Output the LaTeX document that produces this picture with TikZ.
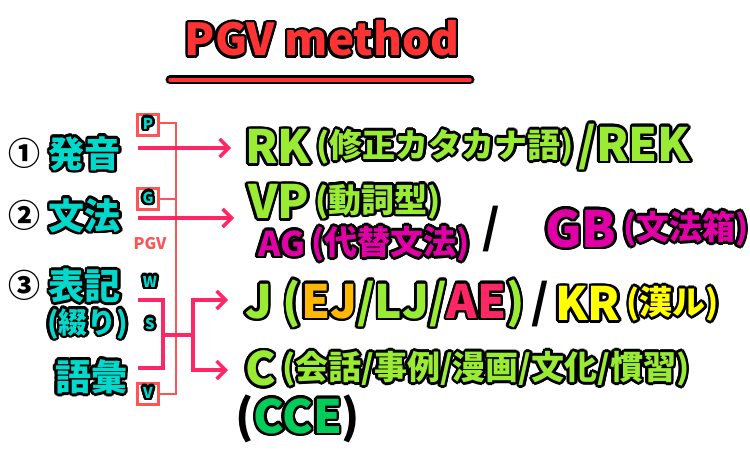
\documentclass[tikz,border=0pt]{standalone}
\usepackage{fontspec}
\setmainfont{Noto Sans CJK JP}[BoldFont={* Black}]
\usepackage{contour}
\contourlength{2.6pt}
\contournumber{16}
\usetikzlibrary{positioning,arrows.meta}
\definecolor{turq}{rgb}{0.0, 0.85, 0.8}
\definecolor{lime}{rgb}{0.6, 0.92, 0.2}
\definecolor{mag}{rgb}{0.88, 0.0, 0.65}
\definecolor{orng}{rgb}{1.0, 0.72, 0.0}
\definecolor{pinkred}{rgb}{1.0, 0.15, 0.4}
\definecolor{yell}{rgb}{1.0, 1.0, 0.0}
\definecolor{grn}{rgb}{0.0, 0.8, 0.35}
\definecolor{boxred}{rgb}{1.0, 0.33, 0.33}
\definecolor{titred}{rgb}{1.0, 0.2, 0.2}
\newcommand{\ol}[2]{\contour{black}{\color{#1}#2}}
\newcommand{\wl}[2]{\contour{white}{\color{#1}#2}}

\begin{document}
\begin{tikzpicture}[x=1pt, y=-1pt, >=Stealth]
	% ------------------------------------------------------------------
	% STYLE DEFINITIONS
	% ------------------------------------------------------------------
	\tikzset{
		txt/.style   = {inner sep=0pt, anchor=west, font=\bfseries},
		big/.style   = {txt, font=\bfseries\fontsize{46}{46}\selectfont},
		small/.style = {txt, font=\bfseries\fontsize{33}{33}\selectfont},
		lbl/.style   = {txt, font=\bfseries\fontsize{36}{36}\selectfont},
		num/.style   = {txt, font=\bfseries\fontsize{32}{32}\selectfont},
		tag/.style   = {inner sep=0pt, font=\bfseries\fontsize{15}{15}\selectfont},
		tagbox/.style= {draw=boxred, line width=2.5pt, minimum size=21pt, inner sep=0pt,
		                font=\bfseries\fontsize{15}{15}\selectfont},
		arr/.style   = {pinkred, line width=3.5pt, -{Straight Barb[length=9pt,width=18pt]}},
		brk/.style   = {pinkred, line width=3.5pt},
		thin/.style  = {boxred, line width=2pt},
	}
	\useasboundingbox (0,0) rectangle (750,460);

	% ------------------------------------------------------------------
	% TITLE
	% ------------------------------------------------------------------
	\node[inner sep=0pt, font=\bfseries\fontsize{44}{44}\selectfont] (title) at (322,40) {\ol{titred}{PGV method}};
	\draw[black, line width=9pt, line cap=round] (170,80) -- (470,80);
	\draw[titred, line width=3.5pt, line cap=round] (170,80) -- (470,80);

	% ------------------------------------------------------------------
	% LEFT COLUMN
	% ------------------------------------------------------------------
	\node[num] (n1) at (8,155) {\wl{black}{①}};
	\node[lbl, right=8pt of n1] (hatsu) {\ol{turq}{発音}};
	\node[num] (n2) at (8,217) {\wl{black}{②}};
	\node[lbl, right=8pt of n2] (bunpo) {\ol{turq}{文法}};
	\node[num] (n3) at (8,287) {\wl{black}{③}};
	\node[lbl, right=8pt of n3] (hyoki) {\ol{turq}{表記}};
	\node[txt, font=\bfseries\fontsize{29}{29}\selectfont] (tsuzuri) at (47,325) {\ol{turq}{(綴り)}};
	\node[lbl] (goi) at (55,378) {\ol{turq}{語彙}};

	% ------------------------------------------------------------------
	% P G W S V TAGS
	% ------------------------------------------------------------------
	\node[tagbox] (P) at (148,125) {\ol{turq}{P}};
	\node[tagbox] (G) at (148,199) {\ol{turq}{G}};
	\node[tagbox] (V) at (148,394) {\ol{turq}{V}};
	\node[tag, font=\bfseries\fontsize{16}{16}\selectfont] (pgv) at (150,245) {\wl{boxred}{PGV}};
	\node[tag] (W) at (150,283) {\ol{turq}{W}};
	\node[tag] (S) at (150,325) {\ol{turq}{S}};
	\coordinate (spine) at (176,123);
	\draw[thin] (P.east |- spine) -- (spine) -- (spine |- V.east) -- (V.east);
	\draw[thin] (G.east) -- (spine |- G.east);

	% ------------------------------------------------------------------
	% RIGHT COLUMN
	% ------------------------------------------------------------------
	\node[big] (rk) at (245,148) {\ol{lime}{RK}};
	\node[small, right=6pt of rk] (rkj) {\ol{lime}{(修正カタカナ語)}};
	\node[big, right=4pt of rkj] (rek) {\ol{lime}{/REK}};

	\node[big] (vp) at (248,203) {\ol{lime}{VP}};
	\node[small, right=6pt of vp] (vpj) {\ol{lime}{(動詞型)}};
	\node[txt, font=\bfseries\fontsize{34}{34}\selectfont] (ag) at (258,245) {\ol{mag}{AG}};
	\node[small, right=6pt of ag] (agj) {\ol{mag}{(代替文法)}};
	\node[big] (sl1) at (482,230) {\wl{black}{/}};
	\node[txt, font=\bfseries\fontsize{50}{50}\selectfont] (gb) at (545,230) {\ol{mag}{GB}};
	\node[small, right=6pt of gb] (gbj) {\ol{mag}{(文法箱)}};

	\node[big] (j) at (245,305) {\ol{lime}{J (}\ol{orng}{EJ}\ol{lime}{/LJ/}\ol{pinkred}{AE}\ol{lime}{)}};
	\node[big, right=6pt of j] (sl2) {\wl{black}{/}};
	\node[big, right=6pt of sl2] (kr) {\ol{yell}{KR}};
	\node[small, right=6pt of kr] (krj) {\ol{yell}{(漢ル)}};

	\node[big] (c) at (245,370) {\ol{lime}{C}};
	\node[small, right=6pt of c] (cj) {\ol{lime}{(会話/事例/漫画/文化/慣習)}};
	\node[big] (cce) at (235,420) {\wl{black}{(}\ol{grn}{CCE}\wl{black}{)}};

	% ------------------------------------------------------------------
	% CONNECTORS
	% ------------------------------------------------------------------
	\draw[arr] (138,148) -- ([xshift=-14pt]rk.west);
	\draw[arr] (138,218) -- ([xshift=-14pt]vp.west |- 0,218);
	\coordinate (btop) at (138,300);
	\coordinate (bbot) at (138,368);
	\coordinate (bmid) at (163,335);
	\coordinate (fork) at (193,335);
	\draw[brk] (btop) -- (bmid |- btop) -- (bmid |- bbot) -- (bbot);
	\draw[brk] (bmid) -- (fork);
	\draw[arr] (fork) -- (fork |- 0,300) -- (228,300);
	\draw[arr] (fork) -- (fork |- 0,370) -- (228,370);
\end{tikzpicture}
\end{document}
